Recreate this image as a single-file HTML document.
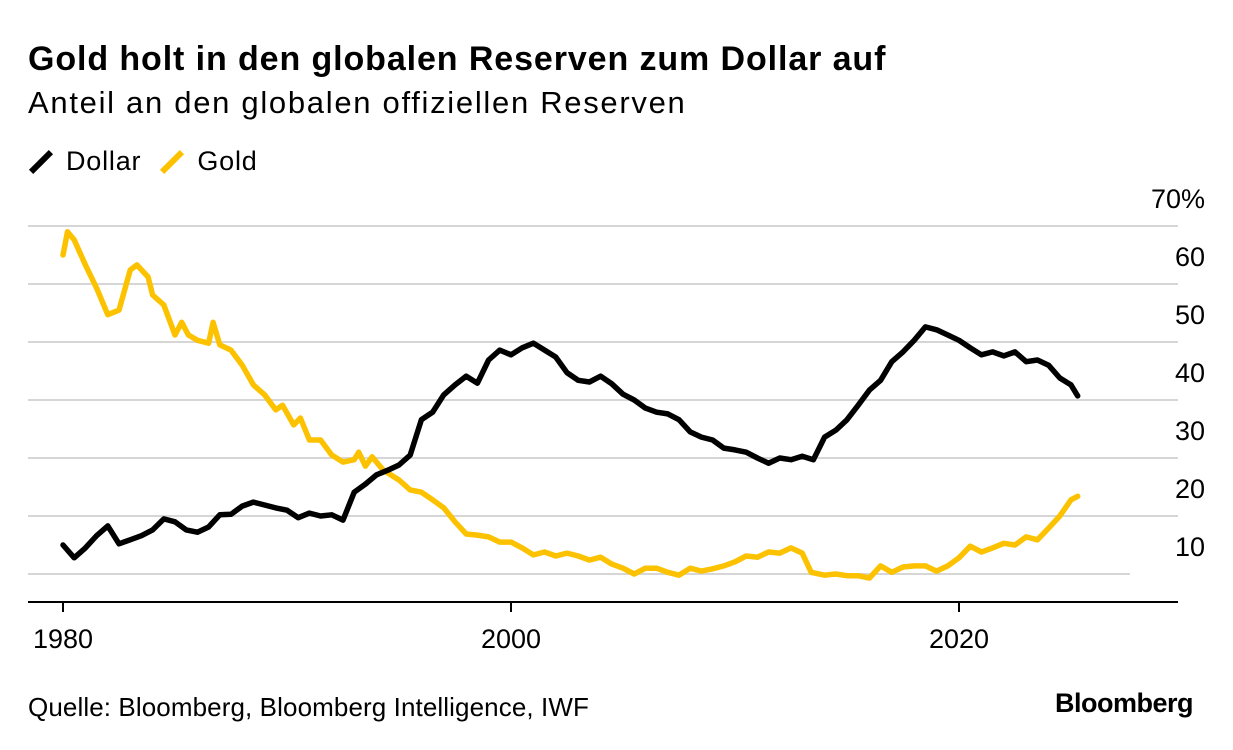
<!DOCTYPE html>
<html><head><meta charset="utf-8"><style>
html,body{margin:0;padding:0;background:#fff;}
body{width:1233px;height:750px;overflow:hidden;font-family:"Liberation Sans",sans-serif;position:relative;color:#000;}
#title{position:absolute;left:28px;top:40px;font-size:34px;font-weight:bold;letter-spacing:0.9px;white-space:nowrap;}
#subtitle{position:absolute;left:28px;top:85px;font-size:31px;letter-spacing:1.7px;white-space:nowrap;}
#legend{position:absolute;left:28px;top:146px;font-size:27px;letter-spacing:0.8px;display:flex;align-items:center;}
.sw{display:inline-block;width:6px;height:28px;transform:rotate(45deg);margin:0 22px 0 10px;}
#source{position:absolute;left:28px;top:692px;font-size:26px;letter-spacing:0.1px;white-space:nowrap;}
#brand{position:absolute;right:40px;top:688px;font-size:27px;font-weight:bold;letter-spacing:-0.5px;}
svg{position:absolute;left:0;top:0;}
</style></head><body>
<div id="title">Gold holt in den globalen Reserven zum Dollar auf</div>
<div id="subtitle">Anteil an den globalen offiziellen Reserven</div>
<div id="legend">
<span style="display:flex;align-items:center"><span class="sw" style="background:#000"></span>Dollar</span>
<span style="display:flex;align-items:center;margin-left:18px"><span class="sw" style="background:#fcc200"></span>Gold</span>
</div>
<svg id="chart" width="1233" height="750"></svg>
<div id="source">Quelle: Bloomberg, Bloomberg Intelligence, IWF</div>
<div id="brand">Bloomberg</div>
<script>
const yTicks=[10,20,30,40,50,60,70];
const xTicks=[1980,2000,2020];
const dollarYears=[1980,1980.5,1981,1981.5,1982,1982.5,1983,1983.5,1984,1984.5,1985,1985.5,1986,1986.5,1987,1987.5,1988,1988.5,1989,1989.5,1990,1990.5,1991,1991.5,1992,1992.5,1993,1993.5,1994,1994.5,1995,1995.5,1996,1996.5,1997,1997.5,1998,1998.5,1999,1999.5,2000,2000.5,2001,2001.5,2002,2002.5,2003,2003.5,2004,2004.5,2005,2005.5,2006,2006.5,2007,2007.5,2008,2008.5,2009,2009.5,2010,2010.5,2011,2011.5,2012,2012.5,2013,2013.5,2014,2014.5,2015,2015.5,2016,2016.5,2017,2017.5,2018,2018.5,2019,2019.5,2020,2020.5,2021,2021.5,2022,2022.5,2023,2023.5,2024,2024.5,2025,2025.3];
const dollarValues=[15,12.8,14.5,16.6,18.3,15.2,15.9,16.6,17.6,19.5,19,17.6,17.2,18.1,20.2,20.3,21.7,22.4,21.9,21.4,21,19.7,20.5,20,20.2,19.3,24.1,25.5,27.1,27.9,28.8,30.5,36.6,37.9,40.9,42.6,44.1,42.9,46.9,48.6,47.8,49,49.8,48.6,47.4,44.7,43.4,43.1,44.1,42.8,41,40,38.6,37.9,37.6,36.6,34.5,33.6,33.1,31.7,31.4,31,30,29.1,30,29.7,30.3,29.7,33.6,34.8,36.6,39.1,41.7,43.4,46.6,48.3,50.3,52.6,52.1,51.2,50.3,49,47.8,48.3,47.6,48.3,46.6,46.9,46,43.8,42.6,40.7];
const goldYears=[1980,1980.2,1980.5,1981,1981.5,1982,1982.5,1983,1983.3,1983.8,1984,1984.5,1985,1985.3,1985.6,1986,1986.5,1986.7,1987,1987.5,1988,1988.5,1989,1989.5,1989.8,1990.3,1990.6,1991,1991.5,1992,1992.5,1993,1993.2,1993.5,1993.8,1994.3,1995,1995.5,1996,1996.5,1997,1997.5,1998,1998.5,1999,1999.5,2000,2000.5,2001,2001.5,2002,2002.5,2003,2003.5,2004,2004.5,2005,2005.5,2006,2006.5,2007,2007.5,2008,2008.5,2009,2009.5,2010,2010.5,2011,2011.5,2012,2012.5,2013,2013.4,2014,2014.5,2015,2015.5,2016,2016.5,2017,2017.5,2018,2018.5,2019,2019.5,2020,2020.5,2021,2021.5,2022,2022.5,2023,2023.5,2024,2024.5,2025,2025.3];
const goldValues=[65,69,67.6,63.3,59.3,54.7,55.5,62.4,63.3,61.2,58.1,56.4,51.2,53.4,51.2,50.3,49.8,53.4,49.5,48.6,46,42.6,40.9,38.3,39.1,35.7,36.9,33.1,33.1,30.5,29.3,29.7,31,28.6,30.2,27.9,26.2,24.5,24.1,22.8,21.4,19,16.9,16.7,16.4,15.5,15.5,14.5,13.3,13.8,13.1,13.6,13.1,12.4,12.9,11.7,11,10,11,11,10.3,9.8,11,10.5,10.9,11.4,12.1,13.1,12.9,13.8,13.6,14.5,13.6,10.3,9.8,10,9.7,9.7,9.3,11.4,10.3,11.2,11.4,11.4,10.5,11.4,12.8,14.8,13.8,14.5,15.3,15,16.4,15.9,17.9,20,22.8,23.4];

const svg=document.getElementById('chart');
const NS='http://www.w3.org/2000/svg';
const xS=yr=>63+(yr-1980)*22.4;
const yS=v=>574-(v-10)*5.8;
function mk(tag,attrs){const e=document.createElementNS(NS,tag);for(const k in attrs)e.setAttribute(k,attrs[k]);svg.appendChild(e);return e;}
yTicks.forEach(t=>{
  const g=mk('line',{x1:28,x2:t===10?1130:1178,y1:yS(t),y2:yS(t),stroke:'#d6d6d6','stroke-width':2});
  
  
  const tx=mk('text',{x:1205,y:yS(t)-18,'text-anchor':'end','font-size':27,'font-family':'Liberation Sans, sans-serif',fill:'#000'});
  tx.textContent=t===70?'70%':String(t);
  
  
});
const ax=mk('line',{x1:28,x2:1178,y1:602,y2:602,stroke:'#000','stroke-width':2});


xTicks.forEach(t=>{
  const tk=mk('line',{x1:xS(t),x2:xS(t),y1:602,y2:612,stroke:'#000','stroke-width':2});
  
  
  const tx=mk('text',{x:xS(t),y:648,'text-anchor':'middle','font-size':27,'font-family':'Liberation Sans, sans-serif',fill:'#000'});
  tx.textContent=String(t);
  
  
});
function line(years,vals,color,name){
  const d=years.map((y,i)=>(i?'L':'M')+xS(y).toFixed(1)+','+yS(vals[i]).toFixed(1)).join('');
  const p=mk('path',{d:d,fill:'none',stroke:color,'stroke-width':5.5,'stroke-linejoin':'round','stroke-linecap':'round'});
  
  
}
line(goldYears,goldValues,'#fcc200','gold-line');
line(dollarYears,dollarValues,'#000','dollar-line');
</script>
</body></html>
